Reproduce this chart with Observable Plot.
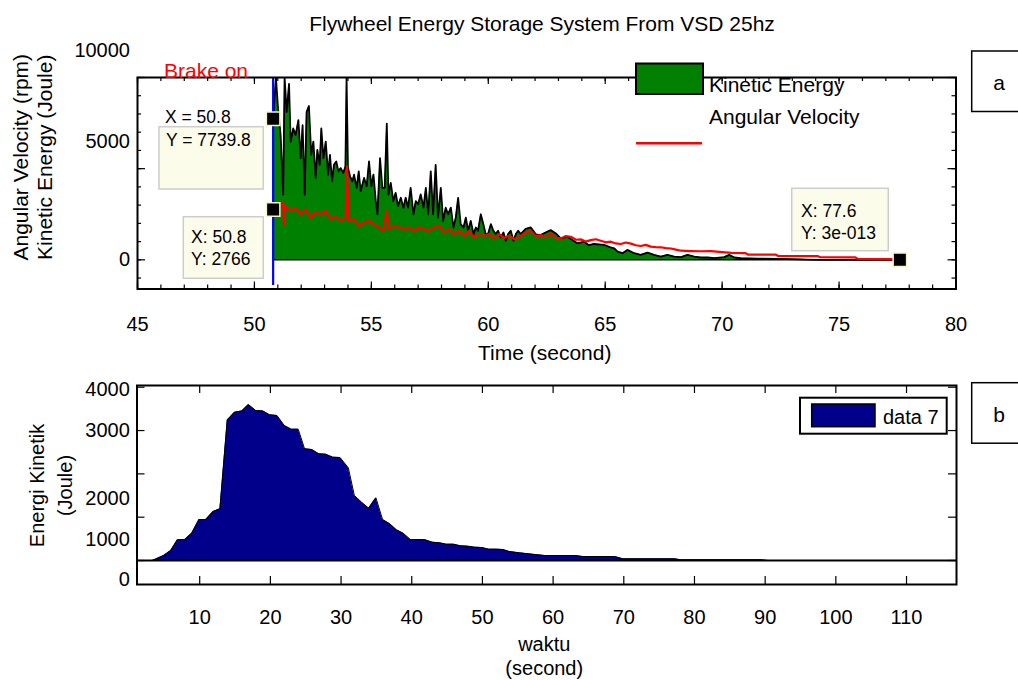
<!DOCTYPE html>
<html><head><meta charset="utf-8">
<script src="https://cdn.jsdelivr.net/npm/d3@7"></script>
<script src="https://cdn.jsdelivr.net/npm/@observablehq/plot@0.6"></script>
<style>
body{margin:0;background:#fff;}
#wrap{position:relative;width:1018px;height:680px;overflow:hidden;font-family:"Liberation Sans",Arial,sans-serif;background:#fff;}
#wrap > svg{position:absolute;left:0;}
</style></head><body><div id="wrap"></div>
<script>
// ---------- DATA ----------
// Panel a: kinetic energy (Joule) after brake on, [time s, energy]
const kineticEnergy = [
[50.8,7740],[50.92,10000],[51.01,8290],[51.12,6842],[51.23,3584],[51.29,10000],[51.38,8109],[51.48,9647],
[51.55,6480],[51.66,7204],[51.76,6842],[51.88,7656],[51.98,5575],[52.06,7385],[52.15,3584],[52.23,8109],
[52.33,8435],[52.43,5756],[52.52,6480],[52.62,4489],[52.69,6027],[52.79,5213],[52.86,7204],[52.95,5575],
[53.05,6480],[53.15,4670],[53.23,5756],[53.32,4308],[53.40,5213],[53.50,5394],[53.59,4851],[53.69,5032],
[53.80,4760],[53.89,5122],[53.94,10000],[54.00,5032],[54.09,4579],[54.19,4308],[54.26,4670],[54.37,3946],
[54.46,4851],[54.54,3765],[54.69,4489],[54.80,4036],[54.90,5394],[55.00,4036],[55.09,4670],[55.19,3222],
[55.26,2498],[55.37,5575],[55.47,3946],[55.57,3946],[55.66,7475],[55.73,3584],[55.83,4217],[55.94,3222],
[56.04,3674],[56.14,2950],[56.26,3403],[56.37,2860],[56.47,3403],[56.57,2860],[56.68,3946],[56.80,2498],
[56.90,3222],[57.00,3041],[57.11,3584],[57.23,2860],[57.33,3946],[57.43,2498],[57.54,4851],[57.64,2498],
[57.75,5213],[57.85,2317],[57.97,3946],[58.07,2136],[58.18,2860],[58.28,2498],[58.40,2860],[58.51,1774],
[58.61,2317],[58.71,3403],[58.82,1955],[58.94,1774],[59.04,2317],[59.14,1593],[59.25,2136],[59.37,1412],
[59.47,1774],[59.56,1593],[59.68,2498],[59.79,1955],[59.89,1412],[59.99,1412],[60.11,1955],[60.22,1593],
[60.32,1412],[60.42,1593],[60.53,1231],[60.65,1502],[60.75,1050],[60.85,1412],[60.96,1593],[61.08,1050],
[61.18,1412],[61.28,1593],[61.39,1412],[61.60,1700],[61.82,1774],[62.03,1400],[62.24,1358],[62.45,1500],
[62.67,1629],[62.89,1448],[63.10,1177],[63.38,1267],[63.60,1086],[63.81,905],[64.10,996],[64.30,800],
[64.52,869],[64.95,815],[65.20,700],[65.38,634],[65.53,453],[65.74,362],[65.95,543],[66.24,362],
[66.52,272],[66.81,398],[67.09,272],[67.38,181],[67.66,272],[67.95,181],[68.24,145],[68.52,272],
[68.81,181],[69.09,127],[69.38,127],[69.66,90],[70.09,145],[70.30,272],[70.52,127],[70.80,90],
[71.5,70],[72.5,50],[73.3,30],[74.0,0],[77.6,0]
];
// Panel a: angular velocity (rpm), [time s, rpm]
const angularVelocity = [
[50.8,2766],[51.23,3131],[51.26,1955],[51.33,2950],[51.55,2679],[51.76,2860],[51.98,2498],[52.19,2769],
[52.40,2317],[52.62,2588],[52.83,2498],[53.05,2679],[53.26,2226],[53.47,2407],[53.69,2136],[53.90,2317],
[53.96,5122],[54.02,2136],[54.26,2226],[54.47,1864],[54.69,2045],[54.90,2136],[55.11,1955],[55.33,1774],
[55.51,1593],[55.66,2679],[55.75,1683],[55.97,1864],[56.18,1774],[56.40,1683],[56.61,1774],[56.83,1593],
[57.04,1774],[57.25,1683],[57.47,1593],[57.68,1774],[57.90,1864],[58.11,1502],[58.32,1683],[58.54,1412],
[58.75,1593],[58.97,1321],[59.18,1593],[59.39,1231],[59.61,1412],[59.82,1321],[60.04,1412],[60.25,1195],
[60.46,1412],[60.68,1195],[60.89,1321],[61.11,1140],[61.32,1267],[61.60,1500],[61.82,1600],[62.03,1300],
[62.24,1358],[62.45,1250],[62.67,1448],[62.89,1200],[63.10,1177],[63.30,1300],[63.53,1267],[63.75,1100],
[63.95,1122],[64.17,1000],[64.38,1080],[64.60,1130],[64.81,1050],[65.02,960],[65.24,996],[65.45,900],
[65.67,869],[65.88,950],[66.10,890],[66.31,800],[66.52,760],[66.73,820],[66.95,724],[67.16,700],
[67.38,688],[67.60,640],[67.81,620],[68.02,560],[68.24,500],[68.66,480],[69.09,470],[69.52,480],
[70.00,420],[70.40,380],[71.00,370],[71.10,290],[72.30,280],[72.40,210],[74.10,200],[74.20,140],
[75.70,130],[75.80,50],[77.10,40],[77.6,20]
];
const brakeTime = 50.8;
// Data tips on panel a
const tipX = [50.8, 50.8, 77.6];
const tipY = [7739.8, 2766, 3e-13];
const tipText = [["X = 50.8", "Y = 7739.8"], ["X: 50.8", "Y: 2766"], ["X: 77.6", "Y: 3e-013"]];
// Panel a tick labels
const topXTicks = [45, 50, 55, 60, 65, 70, 75, 80];
const topYLabelText = ["0", "5000", "10000"];
const topYLabelAt = [0, 6460, 11480];

// Panel b: kinetic energy vs waktu
const bTime = [3.3, 4.9, 5.9, 6.85, 7.9, 8.87, 9.9, 10.85, 11.9, 12.86,
  13.9, 14.93, 15.96, 16.9, 17.93, 18.92, 19.9, 20.94, 21.97, 22.96,
  23.94, 24.84, 25.87, 26.85, 27.84, 28.83, 29.86, 31.03, 31.88, 32.9,
  33.9, 34.93, 35.87, 36.9, 37.84, 38.78, 39.8, 40.9, 41.9, 42.9,
  43.94, 44.88, 45.9, 46.9, 47.93, 48.87, 49.9, 50.9, 51.9, 52.9,
  53.8, 55.2, 56.5, 58.8, 63.1, 64.2, 68.7, 69.9, 77.2, 78.1,
  89.5, 90.4, 117.07];
const bEnergy = [0, 115, 230, 477, 485, 630, 946, 946, 1131, 1192,
  3246, 3423, 3454, 3600, 3462, 3454, 3362, 3346, 3115, 3031,
  3031, 2577, 2562, 2462, 2454, 2385, 2377, 2138, 1500, 1346,
  1208, 1446, 946, 846, 708, 631, 485, 485, 477, 423,
  408, 377, 377, 338, 331, 308, 300, 262, 262, 254,
  208, 177, 154, 115, 115, 92, 92, 38, 38, 15,
  15, 0, 0];
const bXTicks = [10, 20, 30, 40, 50, 60, 70, 80, 90, 100, 110];
const bYTicks = [0, 1000, 2000, 3000, 4000];
const bYLabelText = ["0", "1000", "2000", "3000", "4000"];
const bYLabelAt = [-445, 485, 1438, 3000, 3946];

// ---------- LAYOUT ----------
const FONT = "Liberation Sans, Arial, sans-serif";
const GREEN = "#008000", RED = "#ff0000", NAVY = "#00008b";
const wrap = document.getElementById("wrap");

// ---------- PANEL A ----------
const tH = 370, tW = 1018;
const tM = {top: 77, bottom: tH - 288.5, left: 137, right: 62.5};
const tPH = tH - tM.top - tM.bottom, tPW = tW - tM.left - tM.right;
const kin = kineticEnergy.map(([t, v]) => ({t, v}));
const ang = angularVelocity.map(([t, v]) => ({t, v}));
const tips = tipX.map((x, i) => ({x, y: tipY[i]}));
const kinBase = [{y: 0, x1: kin[0].t, x2: kin[kin.length - 1].t}];
const tXMinor = d3.range(45, 81, 1), tXMajor = d3.range(45, 81, 5);
const tYMinor = d3.range(-1000, 10001, 1000), tYMajor = [0, 5000, 10000];
const topYLabels = topYLabelText.map((label, i) => ({label, at: topYLabelAt[i]}));

const plotA = Plot.plot({
  width: tW, height: tH,
  marginTop: tM.top, marginBottom: tM.bottom, marginLeft: tM.left, marginRight: tM.right,
  x: {domain: [45, 80], axis: null},
  y: {domain: [-1600, 10000], axis: null},
  style: {fontFamily: FONT, fontSize: "20px", background: "transparent", overflow: "visible"},
  marks: [
    Plot.areaY(kin, {x: "t", y: "v", fill: GREEN, clip: true}),
    Plot.ruleY(kinBase, {y: "y", x1: "x1", x2: "x2", stroke: "black", strokeWidth: 1.5}),
    Plot.lineY(kin, {x: "t", y: "v", stroke: "black", strokeWidth: 1.8, clip: true}),
    Plot.lineY(ang, {x: "t", y: "v", stroke: RED, strokeWidth: 2.2, clip: true}),
    Plot.ruleX([brakeTime], {stroke: "#0000ff", strokeWidth: 2.2, insetBottom: 3.5}),
    Plot.ruleX(tXMinor, {insetBottom: tPH - 4, strokeWidth: 1.2}),
    Plot.ruleX(tXMinor, {insetTop: tPH - 4, strokeWidth: 1.2}),
    Plot.ruleX(tXMajor, {insetBottom: tPH - 7, strokeWidth: 1.2}),
    Plot.ruleX(tXMajor, {insetTop: tPH - 7, strokeWidth: 1.2}),
    Plot.ruleY(tYMinor, {insetRight: tPW - 4, strokeWidth: 1.2}),
    Plot.ruleY(tYMinor, {insetLeft: tPW - 4, strokeWidth: 1.2}),
    Plot.ruleY(tYMajor, {insetRight: tPW - 8, strokeWidth: 1.2}),
    Plot.ruleY(tYMajor, {insetLeft: tPW - 8, strokeWidth: 1.2}),
    Plot.frame({stroke: "black", strokeWidth: 2}),
    Plot.dot(tips, {x: "x", y: "y", symbol: "square", r: 7.6, fill: "black", stroke: "#f7f2c4", strokeWidth: 1.5}),
    Plot.text(topXTicks, {x: d => d, text: d => String(d), frameAnchor: "bottom", dy: 36, fontSize: 20, lineAnchor: "middle"}),
    Plot.text(topYLabels, {y: "at", text: "label", frameAnchor: "left", dx: -7.5, textAnchor: "end", lineAnchor: "middle", fontSize: 20}),
    Plot.text(["Time (second)"], {text: d => d, frameAnchor: "bottom", dx: -2, dy: 64.5, fontSize: 21, lineAnchor: "middle"}),
    Plot.text(["Angular Velocity (rpm)"], {text: d => d, frameAnchor: "left", textAnchor: "middle", rotate: -90, dx: -109.5, dy: -26, lineAnchor: "bottom", fontSize: 21}),
    Plot.text(["Kinetic Energy (Joule)"], {text: d => d, frameAnchor: "left", textAnchor: "middle", rotate: -90, dx: -86, dy: -26, lineAnchor: "bottom", fontSize: 21})
  ]
});
plotA.style.top = "0px";
wrap.appendChild(plotA);

// ---------- PANEL B ----------
const bTop = 370, bH = 310, bW = 1018;
const bM = {top: 385 - bTop, bottom: bTop + bH - 584, left: 136.5, right: 62};
const bPH = bH - bM.top - bM.bottom, bPW = bW - bM.left - bM.right;
const bData = bTime.map((t, i) => ({t, v: bEnergy[i]}));
const bYLabels = bYLabelText.map((label, i) => ({label, at: bYLabelAt[i]}));

const plotB = Plot.plot({
  width: bW, height: bH,
  marginTop: bM.top, marginBottom: bM.bottom, marginLeft: bM.left, marginRight: bM.right,
  x: {domain: [1.13, 117.07], axis: null},
  y: {domain: [-554, 4040], axis: null},
  style: {fontFamily: FONT, fontSize: "20px", background: "transparent", overflow: "visible"},
  marks: [
    Plot.areaY(bData, {x: "t", y: "v", fill: NAVY}),
    Plot.lineY(bData, {x: "t", y: "v", stroke: "black", strokeWidth: 1}),
    Plot.ruleY([0], {stroke: "black", strokeWidth: 2}),
    Plot.ruleX(bXTicks, {insetBottom: bPH - 8, strokeWidth: 1.2}),
    Plot.ruleX(bXTicks, {insetTop: bPH - 8, strokeWidth: 1.2}),
    Plot.ruleY(bYTicks, {insetRight: bPW - 8, strokeWidth: 1.2}),
    Plot.ruleY(bYTicks, {insetLeft: bPW - 8, strokeWidth: 1.2}),
    Plot.frame({stroke: "black", strokeWidth: 2}),
    Plot.text(bXTicks, {x: d => d, text: d => String(d), frameAnchor: "bottom", dy: 33.3, fontSize: 20, lineAnchor: "middle"}),
    Plot.text(bYLabels, {y: "at", text: "label", frameAnchor: "left", dx: -7.2, textAnchor: "end", lineAnchor: "middle", fontSize: 20}),
    Plot.text(["waktu"], {text: d => d, frameAnchor: "bottom", dx: -2.5, dy: 60, fontSize: 20, lineAnchor: "middle"}),
    Plot.text(["(second)"], {text: d => d, frameAnchor: "bottom", dx: -2.5, dy: 84, fontSize: 20, lineAnchor: "middle"}),
    Plot.text(["Energi Kinetik"], {text: d => d, frameAnchor: "left", textAnchor: "middle", rotate: -90, dx: -92.7, dy: 0.5, lineAnchor: "bottom", fontSize: 20}),
    Plot.text(["(Joule)"], {text: d => d, frameAnchor: "left", textAnchor: "middle", rotate: -90, dx: -65.5, dy: 0.5, lineAnchor: "bottom", fontSize: 20})
  ]
});
plotB.style.top = bTop + "px";
wrap.appendChild(plotB);

// ---------- ANNOTATIONS (title, legends, data tips, panel tags) ----------
const ov = d3.select(wrap).append("svg")
  .attr("width", 1018).attr("height", 680)
  .style("top", "0px").style("font-family", FONT);

ov.append("text").attr("x", 542).attr("y", 31).attr("text-anchor", "middle")
  .attr("font-size", 21).text("Flywheel Energy Storage System From VSD 25hz");

ov.append("text").attr("x", 164).attr("y", 78.3).attr("font-size", 21).attr("fill", RED).text("Brake on");

// legend panel a
ov.append("rect").attr("x", 636).attr("y", 63.5).attr("width", 67).attr("height", 30.5)
  .attr("fill", GREEN).attr("stroke", "black").attr("stroke-width", 2);
ov.append("text").attr("x", 709).attr("y", 91.7).attr("font-size", 21).text("Kinetic Energy");
ov.append("text").attr("x", 709).attr("y", 124.3).attr("font-size", 21).text("Angular Velocity");
ov.append("line").attr("x1", 636).attr("x2", 702).attr("y1", 143.3).attr("y2", 143.3)
  .attr("stroke", RED).attr("stroke-width", 2.5);

// data tips
const tipBoxes = [
  {rect: [159, 126.7, 104.3, 62.3], lines: [[165, 123.3], [166, 146]]},
  {rect: [183.3, 216.7, 80, 61.6], lines: [[191, 243.3], [191, 265]]},
  {rect: [791.7, 188.3, 96.6, 62.4], lines: [[801, 216.7], [801, 239.3]]}
];
tipBoxes.forEach((b, i) => {
  ov.append("rect").attr("x", b.rect[0]).attr("y", b.rect[1]).attr("width", b.rect[2]).attr("height", b.rect[3])
    .attr("fill", "#fcfcea").attr("stroke", "#cdcdcd").attr("stroke-width", 1.5);
  b.lines.forEach(([x, y], j) => {
    ov.append("text").attr("x", x).attr("y", y).attr("font-size", 17.5).text(tipText[i][j]);
  });
});

// panel tags
[["a", 51, 90], ["b", 382.7, 421.7]].forEach(([t, y, base]) => {
  ov.append("rect").attr("x", 971.7).attr("y", y).attr("width", 60).attr("height", 60.5)
    .attr("fill", "white").attr("stroke", "black").attr("stroke-width", 1.5);
  ov.append("text").attr("x", 999).attr("y", base).attr("text-anchor", "middle").attr("font-size", 21).text(t);
});

// legend panel b
ov.append("rect").attr("x", 800).attr("y", 397.7).attr("width", 146.7).attr("height", 36)
  .attr("fill", "white").attr("stroke", "black").attr("stroke-width", 2);
ov.append("rect").attr("x", 811.7).attr("y", 404).attr("width", 63.3).attr("height", 22.7)
  .attr("fill", NAVY).attr("stroke", "black").attr("stroke-width", 1.5);
ov.append("text").attr("x", 883).attr("y", 424).attr("font-size", 20).text("data 7");
</script>
</body></html>
